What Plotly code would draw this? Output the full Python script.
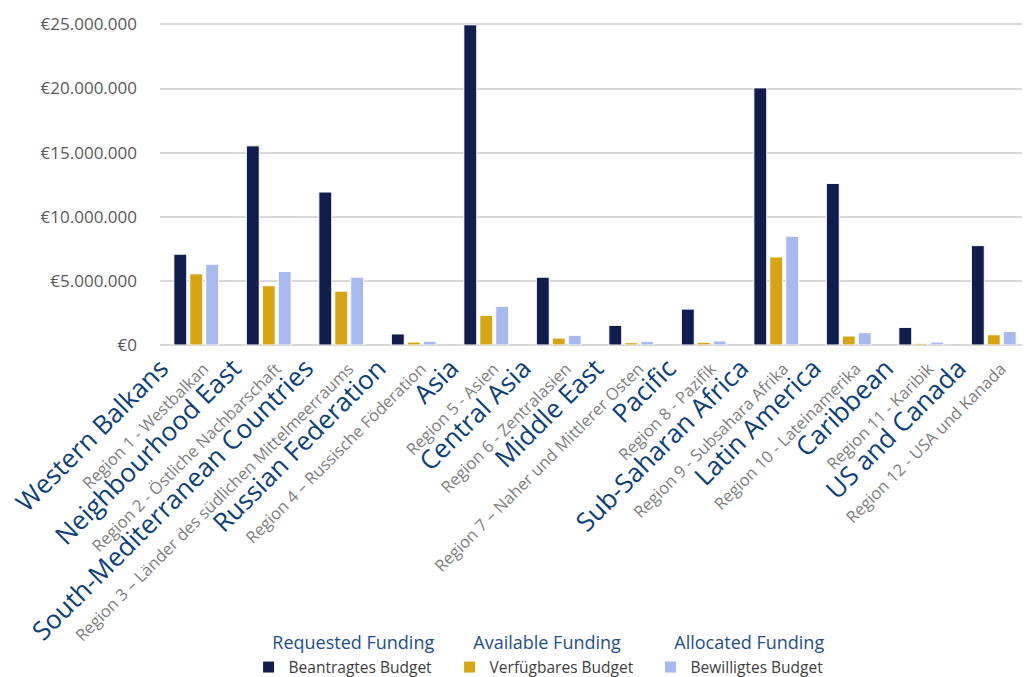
import plotly.graph_objects as go

regions_en = ["Western Balkans", "Neighbourhood East", "South-Mediterranean Countries",
              "Russian Federation", "Asia", "Central Asia", "Middle East", "Pacific",
              "Sub-Saharan Africa", "Latin America", "Caribbean", "US and Canada"]
regions_de = ["Region 1 - Westbalkan", "Region 2 - Östliche Nachbarschaft",
              "Region 3 – Länder des südlichen Mittelmeerraums", "Region 4 – Russische Föderation",
              "Region 5 - Asien", "Region 6 - Zentralasien", "Region 7 – Naher und Mittlerer Osten",
              "Region 8 - Pazifik", "Region 9 - Subsahara Afrika", "Region 10 - Lateinamerika",
              "Region 11 - Karibik", "Region 12 - USA und Kanada"]

requested = [7.08e6, 15.53e6, 11.93e6, 0.86e6, 24.97e6, 5.29e6, 1.53e6, 2.80e6, 20.05e6, 12.60e6, 1.37e6, 7.75e6]
available = [5.55e6, 4.62e6, 4.20e6, 0.23e6, 2.31e6, 0.54e6, 0.18e6, 0.21e6, 6.87e6, 0.70e6, 0.13e6, 0.80e6]
allocated = [6.30e6, 5.73e6, 5.29e6, 0.29e6, 3.01e6, 0.75e6, 0.29e6, 0.31e6, 8.48e6, 0.96e6, 0.23e6, 1.06e6]

series_en = ["Requested Funding", "Available Funding", "Allocated Funding"]
series_de = ["Beantragtes Budget", "Verfügbares Budget", "Bewilligtes Budget"]
colors = ["#111e4d", "#d6a511", "#a8b9f0"]

ytick_vals = [0, 5e6, 10e6, 15e6, 20e6, 25e6]
ytick_text = ["€0", "€5.000.000", "€10.000.000", "€15.000.000", "€20.000.000", "€25.000.000"]

cats = list(range(len(regions_en)))
labels = [
    f"<span style='font-size:26px'>{en}</span>\u00a0\u00a0\u00a0\u00a0\u00a0"
    f"<br><span style='font-size:16.5px;color:#7f7f7f'>{de}</span>"
    for en, de in zip(regions_en, regions_de)
]

fig = go.Figure()
for name_en, name_de, vals, col in zip(series_en, series_de, [requested, available, allocated], colors):
    fig.add_trace(go.Bar(
        x=cats, y=vals, name=name_de,
        marker=dict(color=col, line=dict(color="white", width=1)),
        legendgroup=name_en,
        legendgrouptitle=dict(text="\u00a0\u00a0\u00a0\u00a0" + name_en,
                              font=dict(size=18, color="#1f4e8c")),
    ))

fig.update_layout(
    width=1030, height=677,
    margin=dict(l=152, r=8, t=10, b=339.5, autoexpand=False),
    paper_bgcolor="white", plot_bgcolor="white",
    barmode="group", bargap=0.34, bargroupgap=0.19,
    font=dict(family="Open Sans", color="#404040"),
    showlegend=True,
    legend=dict(
        orientation="h", xref="container", yref="container",
        x=0.2336, y=0.090, xanchor="left", yanchor="top",
        font=dict(size=15.5, color="#404040"),
        tracegroupgap=0, itemwidth=30,
        entrywidth=156, entrywidthmode="pixels",
    ),
)
fig.update_xaxes(
    tickmode="array", tickvals=cats, ticktext=labels,
    tickangle=-45, tickfont=dict(size=21.5, color="#0b3f7a", family="Open Sans"),
    range=[-0.5, 11.5], showgrid=False, showline=False, ticks="",
    automargin=False, ticklabelshift=-14, ticklabelstandoff=-14,
    ticklabeloverflow="allow",
)
fig.update_yaxes(
    range=[0, 25.5e6], tickmode="array", tickvals=ytick_vals, ticktext=ytick_text,
    tickfont=dict(size=17, color="#595959", family="Open Sans"),
    showgrid=True, gridcolor="#d9d9d9", gridwidth=1.5,
    zeroline=True, zerolinecolor="#d9d9d9", zerolinewidth=1.5,
    showline=False, ticks="", ticklabelstandoff=22, automargin=False,
)

fig.write_html("out.html")
